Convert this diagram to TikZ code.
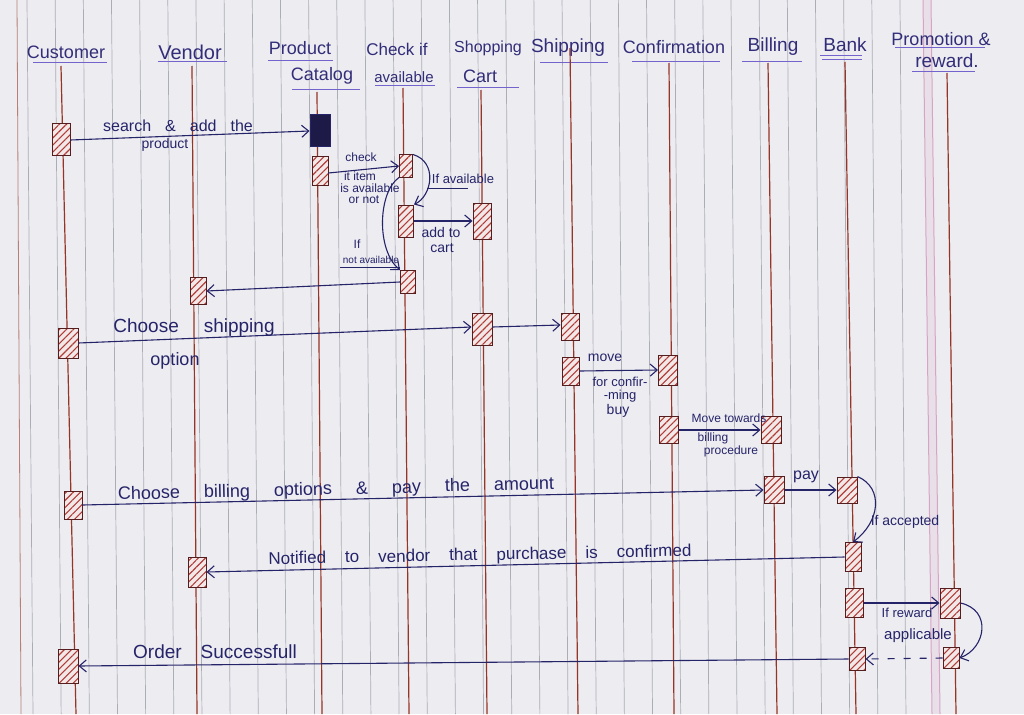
\documentclass[tikz,border=0pt]{standalone}
\usepackage{fontspec}
\setmainfont{Liberation Sans}
\usetikzlibrary{arrows.meta,patterns.meta,calc}
\definecolor{paper}{RGB}{236,236,241}
\definecolor{rule}{RGB}{172,172,180}
\definecolor{ink}{RGB}{38,36,105}
\definecolor{head}{RGB}{50,45,120}
\definecolor{uline}{RGB}{115,100,205}
\definecolor{life}{RGB}{150,52,38}
\definecolor{boxline}{RGB}{85,30,30}
\definecolor{hatch}{RGB}{175,60,55}
\definecolor{boxfill}{RGB}{243,232,232}
\definecolor{margin}{RGB}{215,165,195}
\definecolor{navybox}{RGB}{30,26,72}
\begin{document}
\begin{tikzpicture}[x=1pt,y=-1pt,
  hdr/.style={text=head,inner sep=0pt,font=\fontsize{18}{20}\selectfont},
  fs/.style={font=\fontsize{#1}{#1}\selectfont},
  gaps/.style={execute at begin node={\spaceskip=#1\relax}},
  act/.style={draw=boxline,line width=1pt,inner sep=0pt,minimum width=17pt,minimum height=28pt,
    preaction={fill=boxfill},pattern={Lines[angle=45,distance=5pt,line width=1.1pt]},pattern color=hatch},
  msg/.style={draw=ink,line width=1.1pt,-{Straight Barb[length=7pt,width=12pt,line width=1.1pt]}},
  lbl/.style={text=ink,inner sep=0pt},
  uline/.style={draw=uline,line width=1pt},
  lifeline/.style={draw=life,line width=1.2pt},
  paperrule/.style={draw=rule,line width=0.7pt},
]
\useasboundingbox (0,0) rectangle (1024,714);
\fill[paper] (0,0) rectangle (1024,714);
% ruled paper
\draw[draw=life!60!paper,line width=0.8pt] (17,0) -- (21,714);
\foreach \i in {0,...,31} \draw[paperrule] ({27+\i*28.16},0) -- ({33+\i*28.16},714);
\fill[margin!18!paper] (923,0) -- (931,0) -- (940,714) -- (932,714) -- cycle;
\draw[margin,line width=1pt] (923,0) -- (932,714);
\draw[margin,line width=1pt] (931,0) -- (940,714);

% headers
\node[hdr] (hCu) at (66,52) {Customer};
\node[hdr,fs=20] (hVe) at (190,52) {Vendor};
\node[hdr] (hPc1) at (300,48) {Product};
\node[hdr] (hPc2) at (322,76) {Catalog};
\node[hdr,fs=17] (hCh1) at (397,49) {Check if};
\node[hdr,fs=15] (hCh2) at (404,77) {available};
\node[hdr,fs=16] (hSc1) at (488,48) {Shopping};
\node[hdr] (hSc2) at (480,76) {Cart};
\node[hdr,fs=19] (hSh) at (568,48) {Shipping};
\node[hdr] (hCf) at (674,47) {Confirmation};
\node[hdr,fs=19] (hBl) at (773,47) {Billing};
\node[hdr,fs=19] (hBk) at (845,45) {Bank};
\node[hdr] (hPr1) at (941,39) {Promotion \&};
\node[hdr,fs=19] (hPr2) at (947,61) {reward.};
\draw[uline] (33,63) -- (107,63);
\draw[uline] (158,62) -- (227,62);
\draw[uline] (268,61) -- (333,61);
\draw[uline] (292,90) -- (360,90);
\draw[uline] (375,86) -- (435,86);
\draw[uline] (457,88) -- (519,88);
\draw[uline] (540,63) -- (608,63);
\draw[uline] (632,62) -- (720,62);
\draw[uline] (742,62) -- (802,62);
\draw[uline] (820,56) -- (862,56);
\draw[uline] (822,60) -- (862,60);
\draw[uline] (895,48) -- (985,48);
\draw[uline] (912,72) -- (975,72);

% lifelines
\coordinate (cuT) at (61,66);  \coordinate (cuB) at (76,714);
\coordinate (veT) at (192,66); \coordinate (veB) at (197,714);
\coordinate (pcT) at (317,92); \coordinate (pcB) at (322,714);
\coordinate (chT) at (403,88); \coordinate (chB) at (409,714);
\coordinate (scT) at (481,90); \coordinate (scB) at (487,714);
\coordinate (shT) at (570,48); \coordinate (shB) at (578,714);
\coordinate (cfT) at (669,63); \coordinate (cfB) at (674,714);
\coordinate (blT) at (768,63); \coordinate (blB) at (777,714);
\coordinate (bkT) at (845,62); \coordinate (bkB) at (856,714);
\coordinate (prT) at (947,73); \coordinate (prB) at (956,714);
\foreach \a in {cu,ve,pc,ch,sc,sh,cf,bl,bk,pr} \draw[lifeline] (\a T) -- (\a B);

% activation boxes
\node[act,minimum width=18pt,minimum height=32pt] (c1) at (61,140) {};
\node[draw=ink,fill=navybox,line width=1pt,inner sep=0pt,minimum width=20pt,minimum height=32pt] (pc0) at (320,131) {};
\node[act,minimum width=16pt,minimum height=28pt] (pc1) at (320,171) {};
\node[act,minimum width=13pt,minimum height=22pt] (ch1) at (406,166) {};
\node[act,minimum width=15pt,minimum height=32pt] (ch2) at (406,221) {};
\node[act,minimum width=18pt,minimum height=36pt] (sc1) at (482,221) {};
\node[act,minimum width=15pt,minimum height=23pt] (ch3) at (408,282) {};
\node[act,minimum width=16pt,minimum height=27pt] (v1) at (198,291) {};
\node[act,minimum width=20pt,minimum height=30pt] (c2) at (68,343) {};
\node[act,minimum width=20pt,minimum height=32pt] (sc2) at (482,329) {};
\node[act,minimum width=18pt,minimum height=27pt] (sh1) at (570,327) {};
\node[act,minimum width=17pt,minimum height=28pt] (sh2) at (571,371) {};
\node[act,minimum width=19pt,minimum height=30pt] (cf1) at (668,370) {};
\node[act,minimum width=19pt,minimum height=27pt] (cf2) at (669,430) {};
\node[act,minimum width=20pt,minimum height=27pt] (bl1) at (771,430) {};
\node[act,minimum width=18pt,minimum height=28pt] (c3) at (73,505) {};
\node[act,minimum width=20pt,minimum height=27pt] (bl2) at (774,490) {};
\node[act,minimum width=20pt,minimum height=26pt] (bk1) at (847,490) {};
\node[act,minimum width=16pt,minimum height=29pt] (bk2) at (853,557) {};
\node[act,minimum width=18pt,minimum height=30pt] (v2) at (197,572) {};
\node[act,minimum width=18pt,minimum height=29pt] (bk3) at (854,603) {};
\node[act,minimum width=20pt,minimum height=30pt] (pr1) at (950,603) {};
\node[act,minimum width=16pt,minimum height=21pt] (pr2) at (951,658) {};
\node[act,minimum width=16pt,minimum height=23pt] (bk4) at (857,659) {};
\node[act,minimum width=20pt,minimum height=34pt] (c4) at (68,666) {};

% messages
\draw[msg] (c1.east) -- (pc0.west);
\node[lbl,fs=16,gaps=14pt] (t1) at (178,126) {search \& add the};
\node[lbl,fs=14] (t1b) at (165,145) {product};

\draw[msg] ([yshift=-2pt]pc1.east) -- (ch1.west);
\node[lbl,fs=12] (t2a) at (361,157) {check};
\node[lbl,fs=12] (t2b) at (360,176) {it item};
\node[lbl,fs=12] (t2c) at (370,188) {is available};
\node[lbl,fs=12] (t2d) at (364,200) {or not};

\draw[msg] (ch1.north east) .. controls (438,162) and (432,196) .. (ch2.north east);
\node[lbl,fs=13] (t3) at (463,179) {If available};
\draw[draw=ink,line width=0.9pt] (427,188) -- (468,188);

\draw[msg] (ch1.south west) .. controls (378,192) and (376,250) .. (ch3.north west);
\node[lbl,fs=12] (t4a) at (357,244) {If};
\node[lbl,fs=10] (t4b) at (371,260) {not available};
\draw[draw=ink,line width=0.9pt] (340,267) -- (400,267);

\draw[msg] (ch2.east) -- (sc1.west);
\node[lbl,fs=14] (t5a) at (441,232) {add to};
\node[lbl,fs=14] (t5b) at (442,248) {cart};

\draw[msg] (ch3.west) -- (v1.east);

\draw[msg] (c2.east) -- ([yshift=2pt]sc2.west);
\node[lbl,fs=19,gaps=25pt] (t7a) at (194,328) {Choose shipping};
\node[lbl,fs=18] (t7b) at (175,361) {option};

\draw[msg] ([yshift=2pt]sc2.east) -- ([yshift=2pt]sh1.west);

\draw[msg] (sh2.east) -- (cf1.west);
\node[lbl,fs=14] (t9a) at (605,358) {move};
\node[lbl,fs=13] (t9b) at (620,382) {for confir-};
\node[lbl,fs=13] (t9c) at (620,396) {-ming};
\node[lbl,fs=14] (t9d) at (618,411) {buy};

\draw[msg] (cf2.east) -- (bl1.west);
\node[lbl,fs=12] (t10a) at (729,418) {Move towards};
\node[lbl,fs=12] (t10b) at (713,438) {billing};
\node[lbl,fs=12] (t10c) at (731,451) {procedure};

\draw[msg] (c3.east) -- (bl2.west);
\node[lbl,fs=18,gaps=24pt,rotate=1.4] (t11) at (336,490) {Choose billing options \& pay the amount};

\draw[msg] (bl2.east) -- (bk1.west);
\node[lbl,fs=16] (t12) at (806,477) {pay};

\draw[msg] (bk1.north east) .. controls (884,488) and (880,522) .. (bk2.north);
\node[lbl,fs=14] (t13) at (905,522) {If accepted};

\draw[msg] (bk2.west) -- (v2.east);
\node[lbl,fs=17,gaps=19pt,rotate=1.1] (t14) at (480,556) {Notified to vendor that purchase is confirmed};

\draw[msg] (bk3.east) -- (pr1.west);
\node[lbl,fs=13] (t15a) at (907,613) {If reward};
\node[lbl,fs=15] (t15b) at (918,636) {applicable};

\draw[msg] (pr1.east) .. controls (992,610) and (986,648) .. (pr2.east);

\draw[msg,dash pattern=on 7pt off 9pt] (pr2.west) -- (bk4.east);

\draw[msg] (bk4.west) -- (c4.east);
\node[lbl,fs=19,gaps=19pt] (t18) at (215,652) {Order Successfull};
\end{tikzpicture}
\end{document}
